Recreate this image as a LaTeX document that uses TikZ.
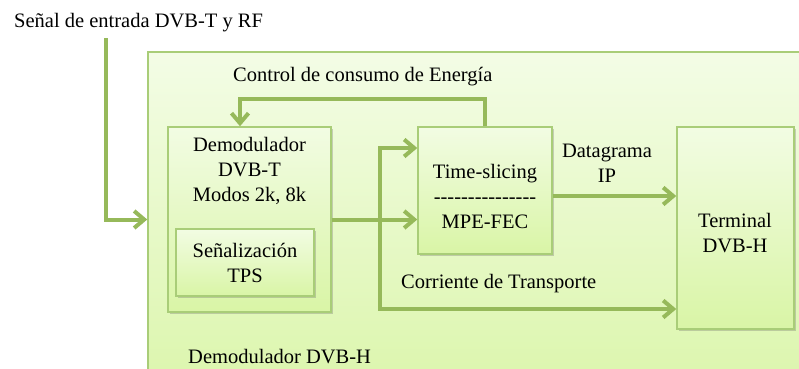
\documentclass[tikz,border=0pt]{standalone}
\usepackage{fontspec}
\setmainfont{Liberation Serif}
\newfontfamily\serifface{Liberation Serif}
\newfontfamily\hyfont{Liberation Serif}[Ligatures=TeXOff]
\usetikzlibrary{arrows.meta,positioning,shadows}

\definecolor{linegreen}{HTML}{96B95A}
\definecolor{boxline}{HTML}{A9CD78}
\definecolor{filltop}{HTML}{F2FCE3}
\definecolor{fillbot}{HTML}{D9F5A6}

\begin{document}
\begin{tikzpicture}[x=1pt,y=-1pt,
        font=\serifface\fontsize{20.5}{25}\selectfont,
        flow/.style={draw=linegreen, line width=4pt, -{Straight Barb[length=10pt,width=17pt]}},
        txt/.style={inner sep=0pt, align=center}]
        \tikzstyle{every box}=[draw=boxline, line width=1.5pt, top color=filltop, bottom color=fillbot]
        \tikzstyle{box}=[every box, drop shadow={shadow xshift=1.5pt, shadow yshift=-1.5pt, opacity=0.3, fill=black!60}]

        \useasboundingbox (0,0) rectangle (799,368);

        % outer block
        \node[every box, top color=filltop!90!white, bottom color=fillbot!95!white,
              minimum width=682pt, minimum height=348pt] (dvbh) at (489,226) {};

        \node[box, minimum width=163pt, minimum height=185pt] (d0)   at (249.5,219.5) {};
        \node[box, minimum width=138pt, minimum height=67pt, txt]  (tps)  at (245,262.5) {Señalización\\TPS};
        \node[box, minimum width=134pt, minimum height=127pt] (ts)   at (485,190.5) {};
        \node[box, minimum width=117pt, minimum height=202pt] (term) at (735.5,228) {};

        \node[txt, below=11pt of d0.north] (d0t) {Demodulador\\DVB-T\\Modos 2k, 8k};
        \node[txt] (tst)   at (485,196) {Time-slicing\\{\hyfont ---------------}\\MPE-FEC};
        \node[txt] (termt) at (735,233) {Terminal\\DVB-H};

        \node[txt, anchor=base west] (sig)  at (14,27)   {Señal de entrada DVB-T y RF};
        \node[txt, anchor=base west] (ctrl) at (233,81)  {Control de consumo de Energía};
        \node[txt, anchor=base west] (dvbhl) at (188,363) {Demodulador DVB-H};
        \node[txt] (dg) at (607,163) {Datagrama\\IP};
        \node[txt, anchor=base west] (cts) at (401,288) {Corriente de Transporte};

        \coordinate (in) at (106,38);
        \coordinate (br) at (380,0 |- d0.east);

        \draw[flow] (in) |- (dvbh.west |- d0.east);
        \draw[flow] (ts.north) |- ([xshift=-9.5pt,yshift=27pt]d0.north) -- ([xshift=-9.5pt]d0.north);
        \draw[flow] (d0.east) -- (d0.east -| ts.west);
        \draw[flow] (br) |- (ts.west |- 0,148);
        \draw[flow] (br) |- (term.west |- 0,309);
        \draw[flow] (ts.east |- 0,196) -- (term.west |- 0,196);
    \end{tikzpicture}
\end{document}
